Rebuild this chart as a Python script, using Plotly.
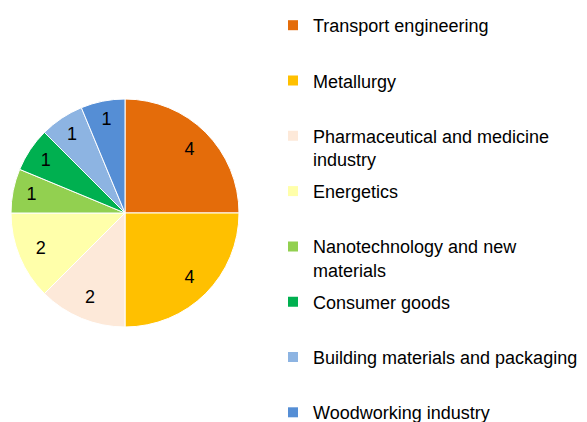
import plotly.graph_objects as go

# ---- data ----
categories = [
    "Transport engineering",
    "Metallurgy",
    "Pharmaceutical and medicine industry",
    "Energetics",
    "Nanotechnology and new materials",
    "Consumer goods",
    "Building materials and packaging",
    "Woodworking industry",
]
legend_labels = [
    "Transport engineering",
    "Metallurgy",
    "Pharmaceutical and medicine<br>industry",
    "Energetics",
    "Nanotechnology and new<br>materials",
    "Consumer goods",
    "Building materials and packaging",
    "Woodworking industry",
]
values = [4, 4, 2, 2, 1, 1, 1, 1]
colors = ["#E46C0A", "#FFC000", "#FDE9D9", "#FFFFAA",
          "#92D050", "#00B050", "#8DB4E2", "#558ED5"]

W, H = 587, 422
FONT = "Liberation Sans, Arial, sans-serif"
pie_domain = dict(x=[11 / W, 239 / W], y=[1 - 327 / H, 1 - 99 / H])

fig = go.Figure()
# filled pie (no text)
fig.add_trace(go.Pie(
    labels=categories, values=values, sort=False,
    direction="clockwise", rotation=0,
    marker=dict(colors=colors, line=dict(color="white", width=1)),
    textinfo="none", domain=pie_domain,
    showlegend=False, hoverinfo="label+value",
))
# transparent ring carrying the value labels near the rim
fig.add_trace(go.Pie(
    labels=categories, values=values, sort=False,
    direction="clockwise", rotation=0, hole=0.6,
    marker=dict(colors=["rgba(0,0,0,0)"] * len(values),
                line=dict(color="rgba(0,0,0,0)", width=0)),
    textinfo="value", textposition="inside",
    insidetextorientation="horizontal",
    textfont=dict(family=FONT, size=18, color="black"),
    domain=pie_domain, showlegend=False, hoverinfo="label+value",
))

layout_legends = {}
first_center, slot = 25, 55.3
for i, (lab, col) in enumerate(zip(legend_labels, colors)):
    key = "legend" if i == 0 else f"legend{i + 1}"
    fig.add_trace(go.Scatter(
        x=[None], y=[None], mode="markers", name=lab,
        marker=dict(symbol="square", size=10, color=col),
        legend=key, showlegend=True, hoverinfo="skip",
    ))
    top = first_center + slot * i - 18
    layout_legends[key] = dict(
        x=273 / W, xanchor="left", y=1 - top / H, yanchor="top",
        valign="top", bgcolor="rgba(0,0,0,0)",
        font=dict(family=FONT, size=18, color="#000000"),
    )

fig.update_layout(
    width=W, height=H,
    margin=dict(l=0, r=0, t=0, b=0, autoexpand=False),
    paper_bgcolor="white", plot_bgcolor="white",
    xaxis=dict(visible=False), yaxis=dict(visible=False),
    **layout_legends,
)

fig.write_html(
    "out.html",
    config={"displayModeBar": False},
    post_script=(
        "document.documentElement.style.margin='0';"
        "document.documentElement.style.overflow='hidden';"
        "document.body.style.margin='0';"
        "document.body.style.overflow='hidden';"
    ),
)
